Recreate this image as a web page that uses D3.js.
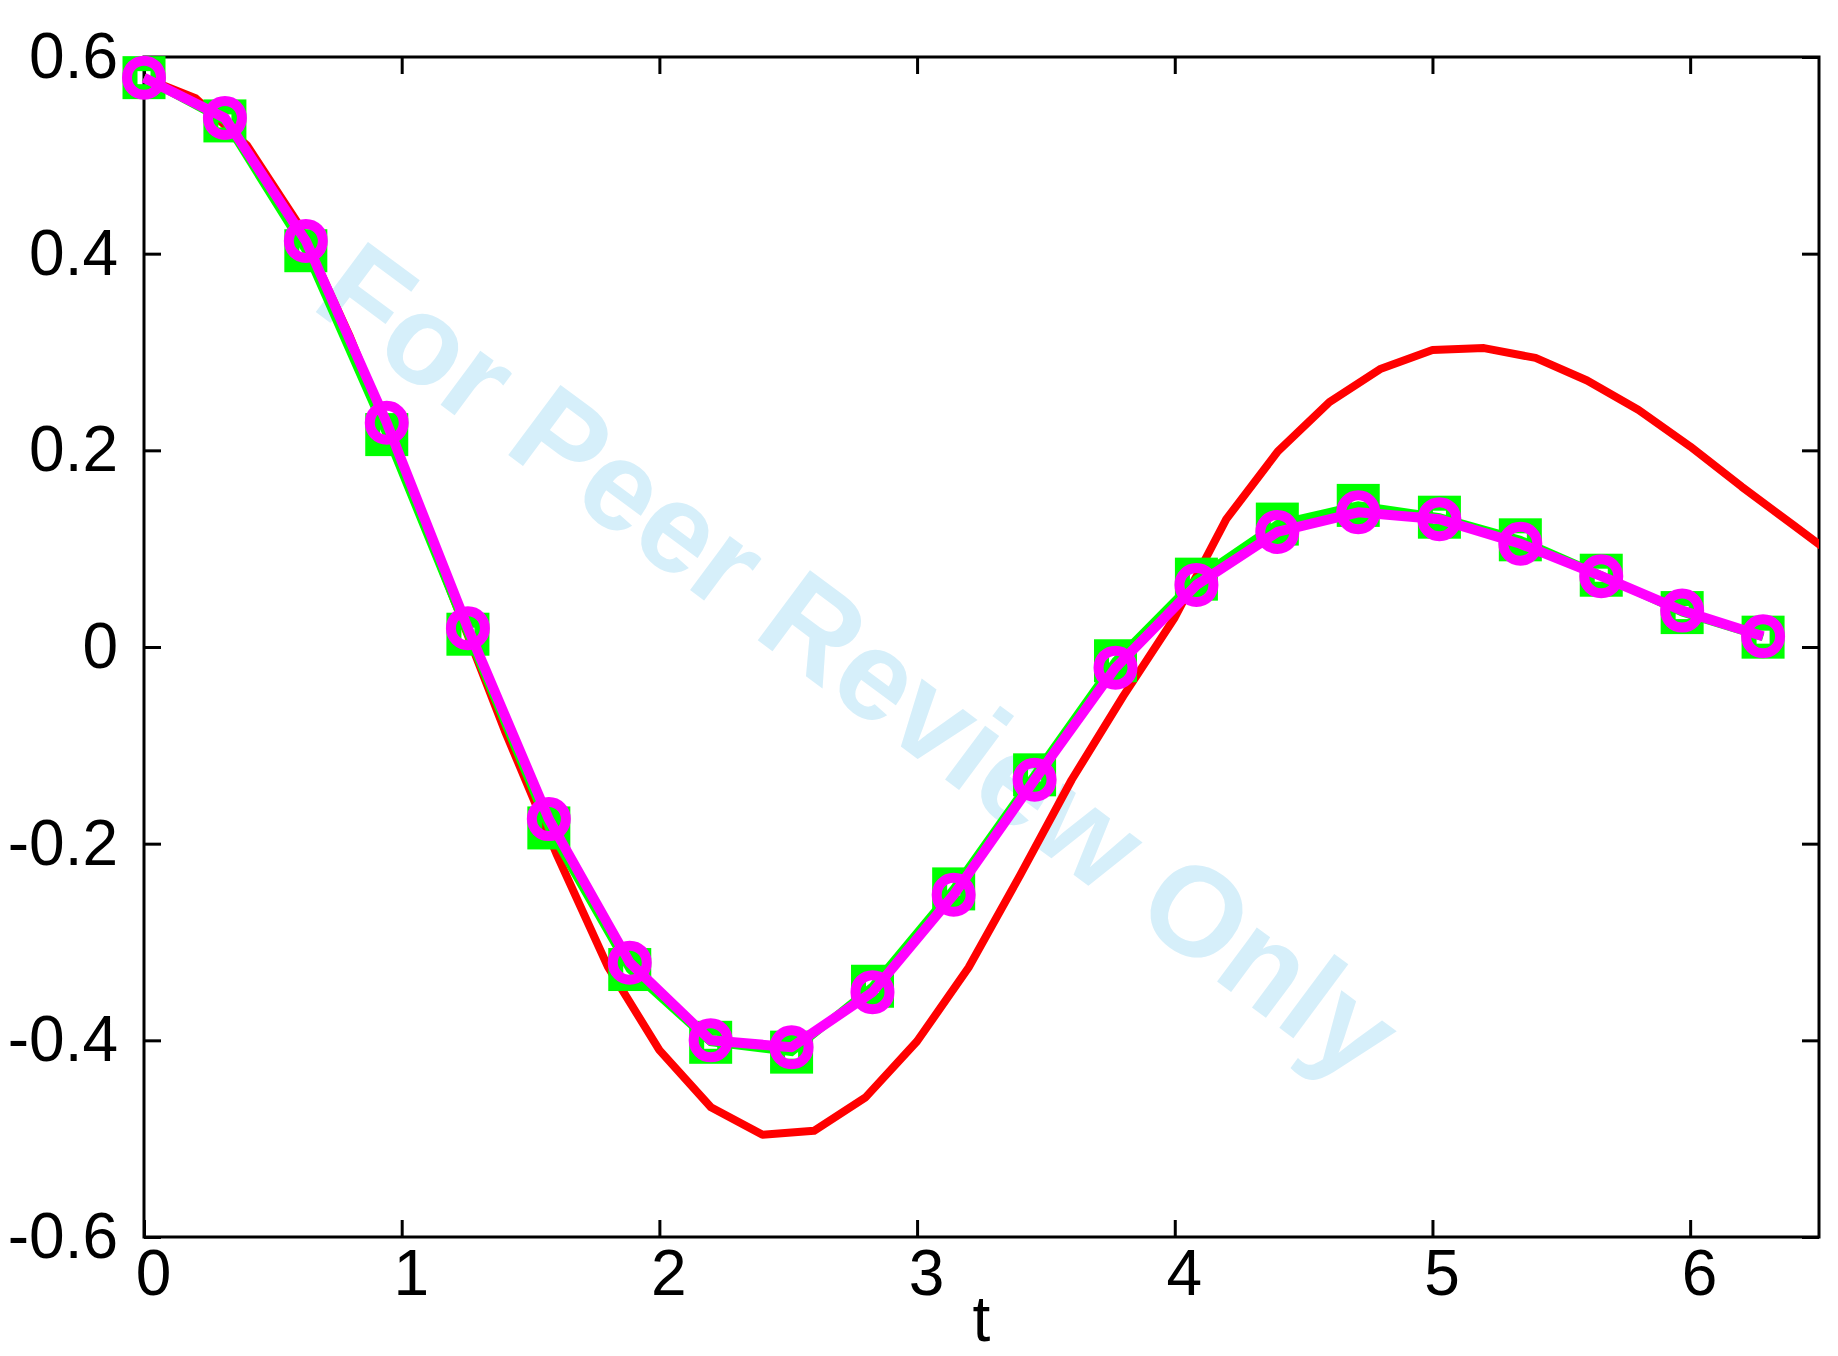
<!DOCTYPE html>
<html>
<head>
<meta charset="utf-8">
<script src="https://cdn.jsdelivr.net/npm/d3@7"></script>
<style>
  body { margin: 0; background: #fff; }
  text { font-family: "Liberation Sans", Arial, sans-serif; }
</style>
</head>
<body>
<script>
// sample times of the marker series (t = 0 .. 2*pi)
const tMarks = [0, 0.314, 0.628, 0.942, 1.257, 1.571, 1.885, 2.199, 2.513, 2.827, 3.142,
  3.456, 3.770, 4.084, 4.398, 4.712, 5.027, 5.341, 5.655, 5.969, 6.283];
const greenVals = [0.579, 0.535, 0.403, 0.216, 0.013, -0.184, -0.328, -0.402, -0.412, -0.345, -0.246,
  -0.130, -0.014, 0.069, 0.125, 0.144, 0.132, 0.109, 0.073, 0.035, 0.010];
const magentaVals = [0.579, 0.538, 0.413, 0.228, 0.019, -0.175, -0.321, -0.400, -0.407, -0.351, -0.252,
  -0.135, -0.021, 0.063, 0.117, 0.137, 0.130, 0.105, 0.072, 0.037, 0.011];

// red reference curve
const tRed = [0, 0.2, 0.4, 0.6, 0.8, 1.0, 1.2, 1.4, 1.6, 1.8, 2.0, 2.2, 2.4, 2.6, 2.8, 3.0, 3.2,
  3.4, 3.6, 3.8, 4.0, 4.2, 4.4, 4.6, 4.8, 5.0, 5.2, 5.4, 5.6, 5.8, 6.0, 6.2, 6.4, 6.6];
const redVals = [0.579, 0.558, 0.51, 0.43, 0.315, 0.185, 0.05, -0.085, -0.21, -0.325, -0.41, -0.468,
  -0.496, -0.492, -0.458, -0.401, -0.326, -0.232, -0.135, -0.05, 0.03, 0.13, 0.199, 0.249, 0.283,
  0.302, 0.304, 0.294, 0.271, 0.241, 0.204, 0.163, 0.124, 0.085];

const xTicks = [0, 1, 2, 3, 4, 5, 6];
const xTickLabels = ["0", "1", "2", "3", "4", "5", "6"];
const yTicks = [-0.6, -0.4, -0.2, 0, 0.2, 0.4, 0.6];
const yTickLabels = ["-0.6", "-0.4", "-0.2", "0", "0.2", "0.4", "0.6"];

const W = 1838, H = 1356;
const margin = { top: 57, right: 19, bottom: 119, left: 144 };
const width = W - margin.left - margin.right,
  height = H - margin.top - margin.bottom;

const svg = d3.select("body").append("svg")
  .attr("width", W).attr("height", H);

const g = svg.append("g")
  .attr("transform", "translate(" + margin.left + "," + margin.top + ")");

const x = d3.scaleLinear().domain([0, 6.5]).range([0, width]);
const y = d3.scaleLinear().domain([-0.6, 0.6]).range([height, 0]);

// watermark
g.append("text")
  .attr("transform", "translate(" + (309 - margin.left) + "," + (307 - margin.top) + ") rotate(36.6)")
  .attr("text-anchor", "start")
  .attr("font-weight", "bold")
  .attr("font-size", 127)
  .attr("fill", "#d6effa")
  .text("For Peer Review Only");

// axes, ticks pointing inward on all four sides
const fmtX = (d) => xTickLabels[xTicks.indexOf(d)];
const fmtY = (d) => yTickLabels[yTicks.indexOf(d)];

const xAxis = g.append("g")
  .attr("transform", "translate(0," + height + ")")
  .call(d3.axisBottom(x).tickValues(xTicks).tickFormat(fmtX).tickSizeInner(-17).tickSizeOuter(0).tickPadding(13));
xAxis.selectAll("text").attr("dx", 9);

g.append("g")
  .call(d3.axisTop(x).tickValues(xTicks).tickFormat("").tickSizeInner(-17).tickSizeOuter(0));

g.append("g")
  .call(d3.axisLeft(y).tickValues(yTicks).tickFormat(fmtY).tickSizeInner(-17).tickSizeOuter(0).tickPadding(26));

g.append("g")
  .attr("transform", "translate(" + width + ",0)")
  .call(d3.axisRight(y).tickValues(yTicks).tickFormat("").tickSizeInner(-17).tickSizeOuter(0));

g.selectAll(".domain").remove();
g.selectAll(".tick line").attr("stroke", "#000").attr("stroke-width", 3);
g.selectAll(".tick text")
  .attr("font-family", "Liberation Sans, Arial, sans-serif")
  .attr("font-size", 64)
  .attr("fill", "#000");

g.append("rect")
  .attr("width", width).attr("height", height)
  .attr("fill", "none").attr("stroke", "#000").attr("stroke-width", 3);

g.append("text")
  .attr("x", width / 2)
  .attr("y", height + 104)
  .attr("text-anchor", "middle")
  .attr("font-size", 64)
  .text("t");

// data
svg.append("defs").append("clipPath").attr("id", "clip")
  .append("rect").attr("width", width).attr("height", height);

const line = d3.line().x((d) => x(d[0])).y((d) => y(d[1]));

g.append("path")
  .datum(d3.zip(tRed, redVals))
  .attr("clip-path", "url(#clip)")
  .attr("fill", "none")
  .attr("stroke", "#ff0000")
  .attr("stroke-width", 8)
  .attr("stroke-linejoin", "round")
  .attr("d", line);

const green = d3.zip(tMarks, greenVals);
g.append("path")
  .datum(green)
  .attr("fill", "none")
  .attr("stroke", "#00ff00")
  .attr("stroke-width", 8)
  .attr("d", line);
g.selectAll(".sq")
  .data(green)
  .enter()
  .append("rect")
  .attr("class", "sq")
  .attr("x", (d) => x(d[0]) - 14)
  .attr("y", (d) => y(d[1]) - 14)
  .attr("width", 28)
  .attr("height", 28)
  .attr("fill", "none")
  .attr("stroke", "#00ff00")
  .attr("stroke-width", 15);

const magenta = d3.zip(tMarks, magentaVals);
g.append("path")
  .datum(magenta)
  .attr("fill", "none")
  .attr("stroke", "#ff00ff")
  .attr("stroke-width", 10)
  .attr("stroke-linejoin", "round")
  .attr("d", line);
g.selectAll(".ci")
  .data(magenta)
  .enter()
  .append("circle")
  .attr("class", "ci")
  .attr("cx", (d) => x(d[0]))
  .attr("cy", (d) => y(d[1]))
  .attr("r", 17)
  .attr("fill", "none")
  .attr("stroke", "#ff00ff")
  .attr("stroke-width", 10);
</script>
</body>
</html>
